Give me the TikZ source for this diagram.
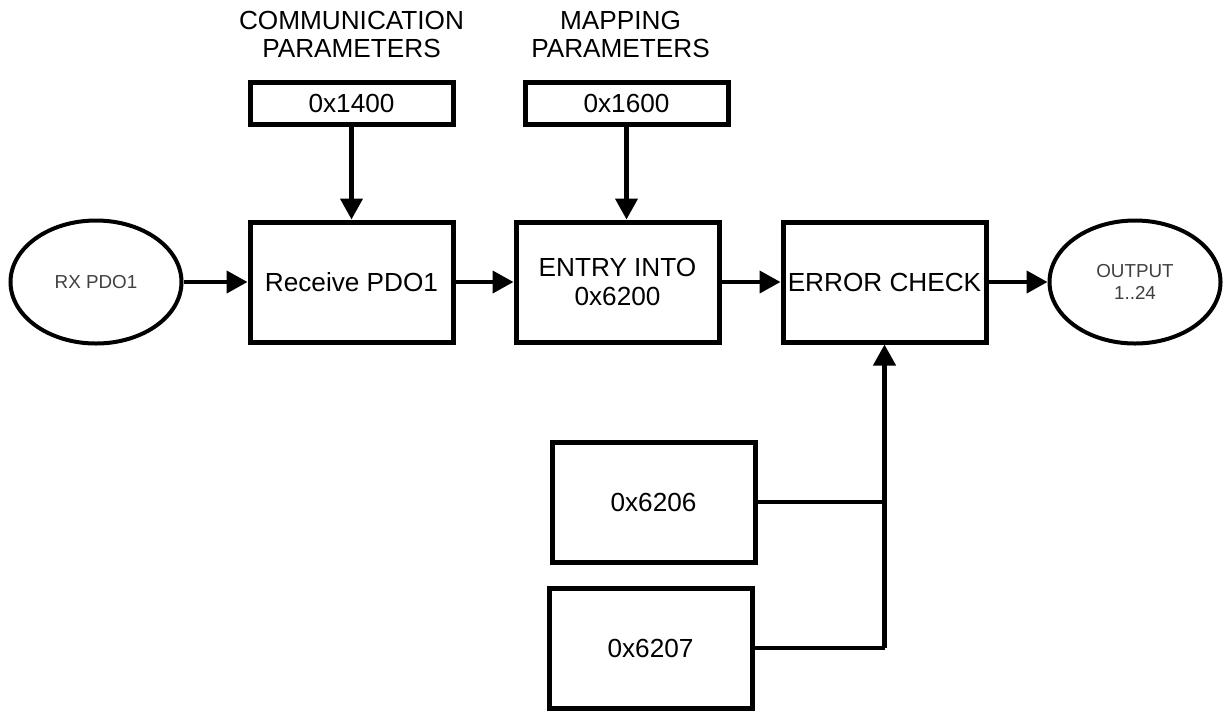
\documentclass[tikz,border=0pt]{standalone}
\usepackage{fontspec}
\setmainfont{Liberation Sans}
\usepackage{xcolor}
\usepackage{tikz}
\usetikzlibrary{arrows.meta,positioning,shapes.geometric}

\begin{document}
\begin{tikzpicture}[
    node distance=1.18cm,
    font=\fontsize{14.9}{16.4}\selectfont,
    block/.style={rectangle,draw,line width=0.1cm,align=center,minimum width=4.06cm,minimum height=2.4cm,inner sep=0pt},
    param/.style={rectangle,draw,line width=0.1cm,align=center,minimum width=4.06cm,minimum height=0.84cm,inner sep=0pt},
    port/.style={ellipse,draw,line width=0.08cm,align=center,minimum width=3.42cm,minimum height=2.46cm,inner sep=0pt,text=black!75,font=\fontsize{10.7}{13}\selectfont},
    caption/.style={align=center,inner sep=0pt},
    arrow/.style={-{Triangle[length=0.42cm,width=0.44cm]},line width=0.085cm},
    link/.style={line width=0.065cm}
]
\useasboundingbox (0,0) rectangle (24.48,-14.22);
\node[port] (rx) at (1.92,-5.64) {RX PDO1};
\node[block,right=1.28cm of rx] (recv) {Receive PDO1};
\node[block,right=1.16cm of recv] (entry) {ENTRY INTO\\0x6200};
\node[block,right=of entry] (err) {ERROR CHECK};
\node[port,right=of err] (out) {OUTPUT\\1..24};
\node[param,above=1.86cm of recv] (comm) {0x1400};
\node[param,above=1.86cm of entry,xshift=0.18cm] (map) {0x1600};
\node[caption,above=0.42cm of comm] (commlbl) {COMMUNICATION\\PARAMETERS};
\node[caption,above=0.42cm of map,xshift=-0.12cm] (maplbl) {MAPPING\\PARAMETERS};
\node[block,below=1.9cm of err,xshift=-4.62cm] (lim) {0x6206};
\node[block,below=0.42cm of lim,xshift=-0.06cm] (dflt) {0x6207};
\draw[arrow] (rx) -- (recv);
\draw[arrow] (recv) -- (entry);
\draw[arrow] (entry) -- (err);
\draw[arrow] (err) -- (out);
\draw[arrow] (comm) -- (recv);
\draw[arrow] (map) -- (map |- entry.north);
\draw[link] (lim.east) -- (lim.east -| err.south);
\draw[link] (dflt.east) -- (dflt.east -| err.south);
\draw[arrow] (dflt.east -| err.south) -- (err.south);
\end{tikzpicture}
\end{document}
